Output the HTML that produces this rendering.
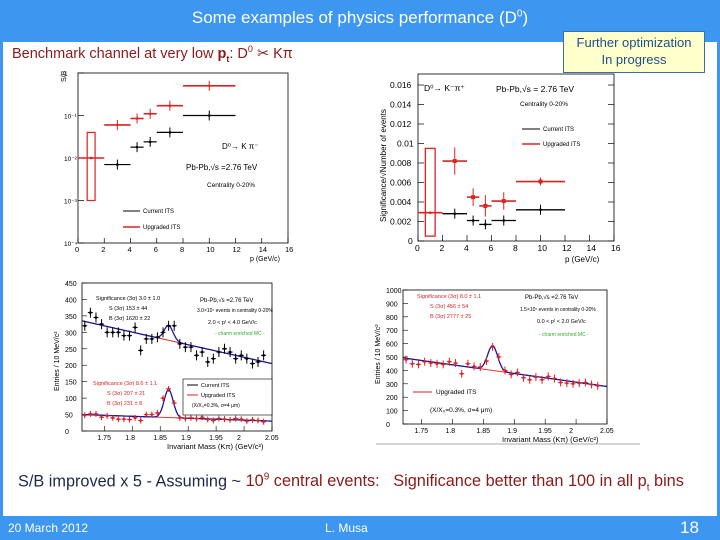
<!DOCTYPE html>
<html><head><meta charset="utf-8"><style>
body{margin:0;width:720px;height:540px;overflow:hidden;font-family:"Liberation Sans",sans-serif;background:#fff;position:relative}
.abs{position:absolute}
svg text{font-family:"Liberation Sans",sans-serif}
</style></head><body>
<div class="abs" style="left:0;top:0;width:714px;height:540px;border-left:3px solid #3d96f0;border-right:3px solid #3d96f0"></div>
<div class="abs" style="left:0;top:0;width:720px;height:42px;background:#3d96f0"></div>
<div class="abs" style="left:0;top:8px;width:720px;text-align:center;color:#fff;font-size:17px">Some examples of physics performance (D<sup style="font-size:10px">0</sup>)</div>
<div class="abs" style="left:563px;top:31px;width:140px;height:38px;background:#ffffcc;border:1px solid #3a6ea8;color:#1f4e8c;font-size:13px;text-align:center;line-height:17px;padding-top:2px">Further optimization<br>In progress</div>
<div class="abs" style="left:12px;top:44px;color:#8b1a1a;font-size:14.5px">Benchmark channel at very low <b>p<sub style="font-size:9px">t</sub></b>: D<sup style="font-size:9px">0</sup> ✂ Kπ</div>
<div class="abs" style="left:18px;top:472px;font-size:16.3px;color:#1a2a4a;white-space:nowrap">S/B improved x 5 - Assuming ~ <span style="color:#8b1a1a">10<sup style="font-size:10px">9</sup> central events:&nbsp;&nbsp; Significance better than 100 in all p<sub style="font-size:10px">t</sub> bins</span></div>
<div class="abs" style="left:0;top:516px;width:720px;height:24px;background:#3d96f0"></div>
<div class="abs" style="left:8px;top:521px;color:#fff;font-size:12px">20 March 2012</div>
<div class="abs" style="left:325px;top:521px;color:#fff;font-size:12px">L. Musa</div>
<div class="abs" style="left:680px;top:518px;color:#fff;font-size:17px">18</div>
<svg class="abs" id="plots" style="left:0;top:0" width="720" height="540"></svg>
<script>
// Top-left: S/B vs pt (log)
const binsLo=[2,4,5,6,8], binsHi=[4,5,6,8,12];
const sbCurrent=[0.007,0.018,0.024,0.04,0.1];
const sbUpgraded=[0.06,0.085,0.11,0.17,0.5];
const sbLowBin=[0,2,0.01,0.001,0.04];
// Top-right: significance
const sigCurrent=[0.0028,0.0021,0.0017,0.0021,0.0032];
const sigUpgraded=[0.0082,0.0045,0.0036,0.0041,0.0061];
const sigUpErr=[0.0014,0.0009,0.0011,0.0009,0.0004];
const sigLowBin=[0,2,0.0029,0.0005,0.0095];
// Bottom-left: invariant mass, current & upgraded
const massX=[1.715,1.725,1.735,1.745,1.755,1.765,1.775,1.785,1.795,1.805,1.815,1.825,1.835,1.845,1.855,1.865,1.875,1.885,1.895,1.905,1.915,1.925,1.935,1.945,1.955,1.965,1.975,1.985,1.995,2.005,2.015,2.025,2.035];
const curY=[320,360,345,325,300,300,300,290,290,315,245,280,280,285,300,320,320,265,255,255,230,240,210,220,240,250,240,220,230,220,205,210,230];
const upgY=[48,52,52,42,46,40,36,36,35,40,32,50,50,55,100,128,85,40,38,40,38,42,35,32,38,36,34,38,36,30,34,32,28];
const bgCur=[335,205], bgUpg=[50,30], peakCur=45, peakUpg=85;
// Bottom-right
const mcY=[490,480,450,445,465,455,450,445,465,455,375,450,430,425,470,575,500,400,370,385,345,330,350,330,355,340,310,305,300,305,310,295,285];
const bgMC=[500,280], peakMC=185;
const NS='http://www.w3.org/2000/svg', svg=document.getElementById('plots');
function el(t,a,p){const e=document.createElementNS(NS,t);for(const k in a)e.setAttribute(k,a[k]);(p||svg).appendChild(e);return e;}
function txt(x,y,s,o){const e=el('text',Object.assign({x:x,y:y,'font-size':7,fill:'#000'},o||{}));e.textContent=s;return e;}
function frame(g,x0,y0,x1,y1){el('rect',{x:x0,y:y0,width:x1-x0,height:y1-y0,fill:'none',stroke:'#000','stroke-width':0.8},g);}
function errBar(g,xa,xb,yc,ye1,ye2,col,w){el('line',{x1:xa,y1:yc,x2:xb,y2:yc,stroke:col,'stroke-width':w},g);el('line',{x1:(xa+xb)/2,y1:ye1,x2:(xa+xb)/2,y2:ye2,stroke:col,'stroke-width':1},g);el('circle',{cx:(xa+xb)/2,cy:yc,r:1.3,fill:col},g);}
// ---- Top-left
const g1=el('g',{});
const X1=v=>78+v/16*210, Y1=v=>243-(Math.log10(v)+4)*42.5;
frame(g1,78,73,288,243);
['10⁻⁴','10⁻³','10⁻²','10⁻¹','1'].forEach((s,i)=>{const y=243-i*42.5;txt(64,y+3,s,{'font-size':6.5});el('line',{x1:78,y1:y,x2:84,y2:y,stroke:'#000','stroke-width':0.7},g1);});
for(let v=0;v<=16;v+=2){txt(X1(v)-3,252,String(v),{'font-size':7.5});el('line',{x1:X1(v),y1:243,x2:X1(v),y2:238,stroke:'#000','stroke-width':0.7},g1);}
txt(250,261,'p  (GeV/c)',{'font-size':7});
txt(66,82,'S/B',{'font-size':7,transform:'rotate(-90 66 82)'});
for(let i=0;i<binsLo.length;i++){
  let y=Y1(sbCurrent[i]);const b=el('g',{},g1);errBar(b,X1(binsLo[i]),X1(binsHi[i]),y,y-5,y+5,'#000',1.2);
  y=Y1(sbUpgraded[i]);const r=el('g',{},g1);errBar(r,X1(binsLo[i]),X1(binsHi[i]),y,y-5,y+5,'#d22',1.6);
}
el('rect',{x:X1(0.7),y:Y1(sbLowBin[4]),width:X1(1.3)-X1(0.7),height:Y1(sbLowBin[3])-Y1(sbLowBin[4]),fill:'none',stroke:'#d22','stroke-width':1.2},g1);
errBar(g1,X1(sbLowBin[0]),X1(sbLowBin[1]),Y1(sbLowBin[2]),Y1(sbLowBin[2]),Y1(sbLowBin[2]),'#d22',1.6);
txt(222,149,'D⁰→ K π⁻',{'font-size':8});txt(186,170,'Pb-Pb,√s   =2.76 TeV',{'font-size':8});txt(207,187,'Centrality 0-20%',{'font-size':6.5});
el('line',{x1:123,y1:211,x2:140,y2:211,stroke:'#000','stroke-width':1},g1);txt(143,213,'Current ITS',{'font-size':6});
el('line',{x1:123,y1:227,x2:140,y2:227,stroke:'#d22','stroke-width':1.5},g1);txt(143,229,'Upgraded ITS',{'font-size':6});
// ---- Top-right
const g2=el('g',{});
const X2=v=>418+v/16*196, Y2=v=>241-v/0.002*19.5;
frame(g2,418,74,614,241);
for(let k=0;k<=8;k++){const v=k*0.002;txt(k==0?408:(k==5?397:390),Y2(v)+3,k==0?'0':(k==5?'0.01':v.toFixed(3)),{'font-size':8.5});el('line',{x1:418,y1:Y2(v),x2:424,y2:Y2(v),stroke:'#000','stroke-width':0.7},g2);el('line',{x1:614,y1:Y2(v),x2:608,y2:Y2(v),stroke:'#000','stroke-width':0.7},g2);}
for(let v=0;v<=16;v+=2){txt(X2(v)-3,251,String(v),{'font-size':8.5});el('line',{x1:X2(v),y1:241,x2:X2(v),y2:235,stroke:'#000','stroke-width':0.7},g2);}
txt(565,262,'p  (GeV/c)',{'font-size':8});
txt(386,222,'Significance/√Number of events',{'font-size':8,transform:'rotate(-90 386 222)'});
for(let i=0;i<binsLo.length;i++){
  let y=Y2(sigCurrent[i]);const b=el('g',{},g2);errBar(b,X2(binsLo[i]),X2(binsHi[i]),y,y-5,y+5,'#000',1.3);
  y=Y2(sigUpgraded[i]);const r=el('g',{},g2);errBar(r,X2(binsLo[i]),X2(binsHi[i]),y,Y2(sigUpgraded[i]+sigUpErr[i]),Y2(sigUpgraded[i]-sigUpErr[i]),'#d22',1.6);
  el('rect',{x:X2((binsLo[i]+binsHi[i])/2)-2,y:y-2,width:4,height:4,fill:'#d22'},r);
}
el('rect',{x:X2(0.6),y:Y2(sigLowBin[4]),width:X2(1.4)-X2(0.6),height:Y2(sigLowBin[3])-Y2(sigLowBin[4]),fill:'none',stroke:'#d22','stroke-width':1.3},g2);
errBar(g2,X2(sigLowBin[0]),X2(sigLowBin[1]),Y2(sigLowBin[2]),Y2(sigLowBin[2]),Y2(sigLowBin[2]),'#d22',1.6);
txt(424,91,'D⁰→ K⁻π⁺',{'font-size':8.5});txt(496,92,'Pb-Pb,√s   = 2.76 TeV',{'font-size':8.5});txt(520,106,'Centrality 0-20%',{'font-size':6.5});
el('line',{x1:522,y1:129,x2:540,y2:129,stroke:'#000','stroke-width':1},g2);txt(543,131,'Current ITS',{'font-size':6});
el('line',{x1:522,y1:144,x2:540,y2:144,stroke:'#d22','stroke-width':1.5},g2);txt(543,146,'Upgraded ITS',{'font-size':6});
// ---- mass plots
function massPlot(name,x0,x1,y0,y1,ymax,step,xmin,series,cols,fits,peaks,yl,eb){
  const g=el('g',{});
  const X=v=>x0+(v-xmin)/(2.05-xmin)*(x1-x0), Y=v=>y1-v/ymax*(y1-y0);
  frame(g,x0,y0,x1,y1);
  for(let v=0;v<=ymax;v+=step){txt(x0-17,Y(v)+3,String(v),{'font-size':7});el('line',{x1:x0,y1:Y(v),x2:x0+5,y2:Y(v),stroke:'#000','stroke-width':0.6},g);}
  [1.75,1.8,1.85,1.9,1.95,2,2.05].forEach(v=>{txt(X(v)-7,y1+9,String(v),{'font-size':7});el('line',{x1:X(v),y1:y1,x2:X(v),y2:y1-5,stroke:'#000','stroke-width':0.6},g);});
  txt(x1-105,y1+18,'Invariant Mass (Kπ) (GeV/c²)',{'font-size':7.5});
  txt(x0-23,y1-40,yl,{'font-size':7,transform:'rotate(-90 '+(x0-23)+' '+(y1-40)+')'});
  series.forEach((ser,s)=>{
    const f=fits[s];const lin=v=>f[0]+(f[1]-f[0])*(v-1.71)/0.34;
    el('line',{x1:X(Math.max(1.71,xmin)),y1:Y(lin(Math.max(1.71,xmin))),x2:X(2.05),y2:Y(lin(2.05)),stroke:'#d33','stroke-width':1},g);
    let d='';for(let v=Math.max(1.71,xmin);v<=2.05;v+=0.002){const yy=lin(v)+peaks[s]*Math.exp(-Math.pow((v-1.865)/0.008,2)/2);d+=(d?'L':'M')+X(v).toFixed(1)+' '+Y(yy).toFixed(1);}
    el('path',{d:d,fill:'none',stroke:'#1a1aa0','stroke-width':1.3},g);
    massX.forEach((m,i)=>{if(m<xmin)return;const p=el('g',{},g);const e=eb[s];errBar(p,X(m)-2.5,X(m)+2.5,Y(ser[i]),Y(ser[i])-e,Y(ser[i])+e,cols[s],1);});
  });
  return g;
}
const g3=massPlot('mass-chart-current',82,272,283,431,450,50,1.71,[curY,upgY],['#000','#d22'],[bgCur,bgUpg],[peakCur,peakUpg],'Entries / 10 MeV/c²',[5,3]);
txt(96,300,'Significance (3σ) 3.0 ± 1.0',{'font-size':5.5,fill:'#000'});txt(109,310,'S (3σ) 153 ± 44',{'font-size':5.5});txt(109,320,'B (3σ) 1620 ± 22',{'font-size':5.5});
txt(200,302,'Pb-Pb,√s =2.76 TeV',{'font-size':6});txt(197,312,'3.0×10⁷ events in centrality 0-20%',{'font-size':5});txt(208,324,'2.0 < pᵗ < 4.0 GeV/c',{'font-size':5.5});txt(215,335,'- charm enriched MC -',{'font-size':5,fill:'#3a3'});
txt(93,385,'Significance (3σ) 8.6 ± 1.1',{'font-size':5.5,fill:'#d22'});txt(107,395,'S (3σ) 207 ± 21',{'font-size':5.5,fill:'#d22'});txt(107,405,'B (3σ) 231 ± 8',{'font-size':5.5,fill:'#d22'});
el('rect',{x:183,y:379,width:89,height:36,fill:'#fff',stroke:'#000','stroke-width':0.6});
el('line',{x1:187,y1:385,x2:198,y2:385,stroke:'#000'});txt(201,387,'Current ITS',{'font-size':5.5});
el('line',{x1:187,y1:395,x2:198,y2:395,stroke:'#d22'});txt(201,397,'Upgraded ITS',{'font-size':5.5});txt(192,407,'(X/X₀=0.3%, σ=4 μm)',{'font-size':5});
const g4=massPlot('mass-chart-upgraded',403,607,290,424,1000,100,1.72,[mcY],['#d22'],[bgMC],[peakMC],'Entries / 10 MeV/c²',[4]);
el('line',{x1:376,y1:444,x2:640,y2:444,stroke:'#aaa','stroke-width':1});
txt(417,298,'Significance (3σ) 8.0 ± 1.1',{'font-size':5.5,fill:'#d22'});txt(430,308,'S (3σ) 456 ± 54',{'font-size':5.5,fill:'#d22'});txt(430,318,'B (3σ) 2777 ± 25',{'font-size':5.5,fill:'#d22'});
txt(525,299,'Pb-Pb,√s =2.76 TeV',{'font-size':6});txt(520,311,'1.5×10⁷ events in centrality 0-20%',{'font-size':5});txt(537,323,'0.0 < pᵗ < 2.0 GeV/c',{'font-size':5.5});txt(539,336,'- charm enriched MC -',{'font-size':5,fill:'#3a3'});
el('line',{x1:413,y1:392,x2:432,y2:392,stroke:'#d22'});txt(436,394,'Upgraded ITS',{'font-size':6.5});txt(430,412,'(X/X₀=0.3%, σ=4 μm)',{'font-size':6.5});
</script>
</body></html>
